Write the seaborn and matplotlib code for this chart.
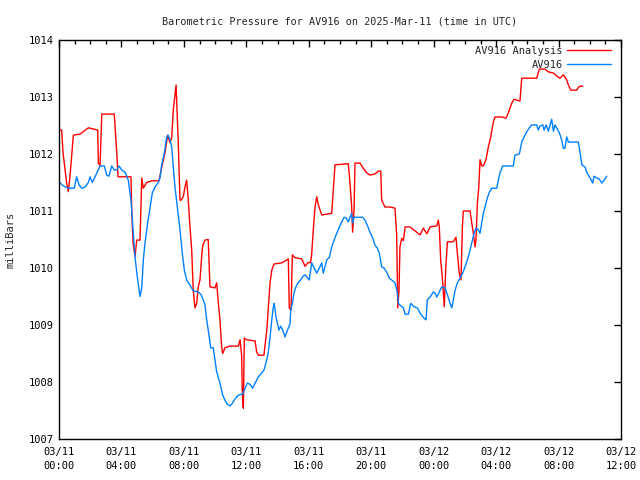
import pandas as pd
import matplotlib
matplotlib.use("Agg")
import matplotlib.pyplot as plt
import matplotlib.dates as mdates
import seaborn as sns

# ======== DATA (hours after 2025-03-11 00:00 UTC, pressure in mb) ========
START = pd.Timestamp("2025-03-11 00:00")

analysis_hours = [
    0.00, 0.17, 0.26, 0.49, 0.60, 0.70, 0.92, 1.35, 1.88, 2.48, 2.52, 2.63, 2.74,
    3.54, 3.70, 3.78, 4.61, 4.66, 4.74, 4.87, 4.98, 5.19, 5.30, 5.40, 5.62, 5.94,
    6.41, 6.58, 6.79, 6.96, 7.11, 7.22, 7.32, 7.50, 7.64, 7.75, 7.82, 7.96, 8.07,
    8.18, 8.28, 8.39, 8.50, 8.60, 8.71, 8.82, 8.92, 9.03, 9.14, 9.21, 9.35, 9.56,
    9.67, 9.99, 10.10, 10.21, 10.31, 10.42, 10.49, 10.63, 10.95, 11.49, 11.60,
    11.70, 11.74, 11.81, 11.87, 12.02, 12.56, 12.66, 12.77, 13.13, 13.20, 13.31,
    13.41, 13.52, 13.63, 13.77, 14.27, 14.59, 14.69, 14.75, 14.86, 14.95, 15.12,
    15.55, 15.76, 15.97, 16.12, 16.19, 16.29, 16.40, 16.51, 16.61, 16.83, 17.47,
    17.57, 17.68, 18.53, 18.64, 18.75, 18.81, 18.90, 18.96, 19.28, 19.49, 19.71,
    19.92, 20.24, 20.45, 20.61, 20.67, 20.88, 21.20, 21.52, 21.63, 21.70, 21.78,
    21.84, 21.95, 22.06, 22.17, 22.49, 22.81, 23.13, 23.34, 23.56, 23.77, 24.20,
    24.30, 24.36, 24.45, 24.58, 24.68, 24.77, 24.88, 25.26, 25.43, 25.52, 25.64,
    25.75, 25.84, 25.90, 26.33, 26.44, 26.54, 26.65, 26.71, 26.80, 26.89, 26.97,
    27.08, 27.18, 27.35, 27.50, 27.66, 27.82, 27.93, 28.36, 28.64, 28.78, 29.00,
    29.15, 29.53, 29.64, 30.60, 30.77, 31.13, 31.35, 31.67, 31.88, 32.09, 32.31,
    32.52, 32.63, 32.78, 33.16, 33.27, 33.38, 33.55,
]
analysis_mb = [
    1012.42, 1012.42, 1012.02, 1011.49, 1011.34, 1011.60, 1012.33, 1012.35, 1012.46,
    1012.42, 1011.84, 1011.80, 1012.70, 1012.70, 1012.02, 1011.60, 1011.60, 1011.02,
    1010.44, 1010.20, 1010.49, 1010.49, 1011.58, 1011.40, 1011.50, 1011.53, 1011.53,
    1011.77, 1012.02, 1012.33, 1012.20, 1012.28, 1012.77, 1013.21, 1012.19, 1011.19,
    1011.19, 1011.25, 1011.42, 1011.54, 1011.19, 1010.72, 1010.32, 1009.61, 1009.30,
    1009.38, 1009.67, 1009.79, 1010.20, 1010.40, 1010.49, 1010.50, 1009.67, 1009.65,
    1009.74, 1009.38, 1009.09, 1008.61, 1008.50, 1008.60, 1008.63, 1008.63, 1008.74,
    1008.46, 1007.86, 1007.54, 1008.77, 1008.74, 1008.72, 1008.53, 1008.47, 1008.47,
    1008.65, 1008.91, 1009.30, 1009.74, 1009.96, 1010.07, 1010.09, 1010.14, 1010.16,
    1009.30, 1009.26, 1010.23, 1010.18, 1010.16, 1010.03, 1010.10, 1010.09, 1010.26,
    1010.67, 1011.07, 1011.25, 1011.11, 1010.93, 1010.96, 1011.37, 1011.81, 1011.83,
    1011.49, 1011.07, 1010.63, 1011.02, 1011.84, 1011.84, 1011.75, 1011.67, 1011.63,
    1011.65, 1011.70, 1011.70, 1011.19, 1011.07, 1011.07, 1011.05, 1010.58, 1009.30,
    1009.61, 1010.37, 1010.52, 1010.48, 1010.72, 1010.72, 1010.65, 1010.58, 1010.70,
    1010.60, 1010.72, 1010.74, 1010.84, 1010.72, 1010.14, 1009.75, 1009.32, 1009.97,
    1010.46, 1010.46, 1010.54, 1010.25, 1009.91, 1009.79, 1010.72, 1011.00, 1011.00,
    1010.79, 1010.61, 1010.37, 1010.49, 1011.14, 1011.42, 1011.90, 1011.79, 1011.79,
    1011.90, 1012.12, 1012.30, 1012.56, 1012.65, 1012.65, 1012.63, 1012.72, 1012.89,
    1012.96, 1012.93, 1013.33, 1013.33, 1013.49, 1013.49, 1013.44, 1013.42, 1013.37,
    1013.33, 1013.39, 1013.30, 1013.21, 1013.12, 1013.12, 1013.17, 1013.19, 1013.19,
]

station_hours = [
    0.00, 0.28, 0.60, 0.98, 1.13, 1.28, 1.45, 1.67, 1.88, 1.99, 2.13, 2.31, 2.48,
    2.63, 2.90, 3.06, 3.20, 3.38, 3.54, 3.70, 3.84, 4.02, 4.23, 4.44, 4.61, 4.76,
    4.87, 5.04, 5.19, 5.30, 5.40, 5.51, 5.68, 5.83, 5.98, 6.15, 6.36, 6.47, 6.58,
    6.75, 6.90, 7.00, 7.11, 7.22, 7.32, 7.43, 7.60, 7.75, 7.90, 8.03, 8.18, 8.39,
    8.60, 8.92, 9.10, 9.24, 9.35, 9.46, 9.56, 9.72, 9.88, 9.99, 10.10, 10.31, 10.49,
    10.63, 10.78, 10.95, 11.06, 11.27, 11.49, 11.77, 11.92, 12.06, 12.24, 12.41,
    12.56, 12.77, 12.99, 13.13, 13.31, 13.41, 13.52, 13.63, 13.73, 13.79, 13.90,
    13.98, 14.09, 14.20, 14.33, 14.48, 14.59, 14.80, 14.84, 14.95, 15.05, 15.18,
    15.33, 15.48, 15.65, 15.76, 16.03, 16.19, 16.34, 16.51, 16.68, 16.83, 16.93,
    17.15, 17.32, 17.47, 17.62, 17.79, 17.96, 18.11, 18.26, 18.39, 18.53, 18.64,
    18.75, 18.81, 18.90, 19.07, 19.46, 19.60, 19.75, 19.92, 20.10, 20.24, 20.39,
    20.52, 20.67, 20.82, 20.99, 21.16, 21.31, 21.52, 21.67, 21.74, 21.84, 22.06,
    22.17, 22.38, 22.53, 22.74, 22.95, 23.17, 23.38, 23.51, 23.59, 23.77, 23.98,
    24.09, 24.20, 24.36, 24.52, 24.73, 24.88, 25.05, 25.16, 25.26, 25.37, 25.52,
    25.69, 25.86, 26.01, 26.16, 26.28, 26.44, 26.59, 26.71, 26.86, 26.97, 27.08,
    27.18, 27.29, 27.44, 27.57, 27.72, 28.04, 28.14, 28.25, 28.42, 29.10, 29.21,
    29.49, 29.58, 29.64, 29.79, 29.96, 30.13, 30.28, 30.60, 30.70, 30.81, 30.99,
    31.07, 31.20, 31.35, 31.45, 31.56, 31.67, 31.77, 31.88, 32.05, 32.20, 32.31,
    32.41, 32.52, 32.63, 32.74, 33.27, 33.38, 33.49, 33.70, 33.80, 34.02, 34.19,
    34.27, 34.45, 34.61, 34.77, 34.92, 35.09,
]
station_mb = [
    1011.51, 1011.44, 1011.40, 1011.40, 1011.60, 1011.46, 1011.40, 1011.42, 1011.50,
    1011.60, 1011.50, 1011.60, 1011.70, 1011.79, 1011.79, 1011.63, 1011.61, 1011.79,
    1011.72, 1011.72, 1011.79, 1011.72, 1011.68, 1011.54, 1011.19, 1010.61, 1010.19,
    1009.79, 1009.50, 1009.65, 1010.14, 1010.44, 1010.79, 1011.05, 1011.32, 1011.42,
    1011.50, 1011.58, 1011.81, 1012.02, 1012.30, 1012.33, 1012.25, 1012.12, 1011.77,
    1011.42, 1011.02, 1010.67, 1010.26, 1009.96, 1009.79, 1009.70, 1009.60, 1009.58,
    1009.53, 1009.44, 1009.35, 1009.09, 1008.91, 1008.60, 1008.60, 1008.39, 1008.18,
    1007.98, 1007.77, 1007.68, 1007.61, 1007.58, 1007.61, 1007.70, 1007.77, 1007.79,
    1007.89, 1007.98, 1007.96, 1007.89, 1007.98, 1008.09, 1008.16, 1008.21, 1008.39,
    1008.53, 1008.79, 1009.09, 1009.32, 1009.38, 1009.14, 1009.04, 1008.91, 1008.98,
    1008.91, 1008.79, 1008.88, 1009.02, 1009.26, 1009.38, 1009.56, 1009.67, 1009.75,
    1009.79, 1009.86, 1009.88, 1009.79, 1010.09, 1010.00, 1009.91, 1010.00, 1010.09,
    1009.91, 1010.14, 1010.19, 1010.37, 1010.49, 1010.61, 1010.72, 1010.81, 1010.89,
    1010.88, 1010.81, 1010.89, 1010.96, 1010.79, 1010.89, 1010.89, 1010.89, 1010.84,
    1010.75, 1010.63, 1010.52, 1010.40, 1010.35, 1010.26, 1010.02, 1010.00, 1009.93,
    1009.82, 1009.79, 1009.74, 1009.58, 1009.38, 1009.35, 1009.30, 1009.19, 1009.19,
    1009.38, 1009.32, 1009.30, 1009.19, 1009.12, 1009.09, 1009.44, 1009.49, 1009.58,
    1009.56, 1009.49, 1009.58, 1009.67, 1009.65, 1009.53, 1009.38, 1009.30, 1009.44,
    1009.61, 1009.74, 1009.82, 1009.91, 1010.02, 1010.14, 1010.26, 1010.44, 1010.61,
    1010.70, 1010.67, 1010.61, 1010.79, 1010.96, 1011.07, 1011.23, 1011.33, 1011.40,
    1011.40, 1011.54, 1011.67, 1011.79, 1011.79, 1011.98, 1012.00, 1012.12, 1012.21,
    1012.30, 1012.39, 1012.46, 1012.51, 1012.51, 1012.42, 1012.49, 1012.51, 1012.42,
    1012.51, 1012.40, 1012.51, 1012.61, 1012.40, 1012.51, 1012.46, 1012.37, 1012.25,
    1012.10, 1012.10, 1012.30, 1012.21, 1012.21, 1012.21, 1012.02, 1011.81, 1011.77,
    1011.68, 1011.58, 1011.49, 1011.61, 1011.58, 1011.56, 1011.49, 1011.54, 1011.61,
]

series_names = ["AV916 Analysis", "AV916"]
series_colors = {"AV916 Analysis": "#ff0000", "AV916": "#0080ff"}

# ======== BUILD LONG TABLE ========
df = pd.concat([
    pd.DataFrame({"time": START + pd.to_timedelta(analysis_hours, unit="h"),
                  "mb": analysis_mb, "series": series_names[0]}),
    pd.DataFrame({"time": START + pd.to_timedelta(station_hours, unit="h"),
                  "mb": station_mb, "series": series_names[1]}),
], ignore_index=True)

# ======== PLOT ========
sns.set_theme(style="white")
plt.rcParams["font.family"] = ["DejaVu Sans Mono"]
plt.rcParams["font.size"] = 7

fig = plt.figure(figsize=(6.4, 4.8), dpi=100)
ax = fig.add_axes([59 / 640, 41 / 480, 562 / 640, 399 / 480])

sns.lineplot(data=df, x="time", y="mb", hue="series", hue_order=series_names,
             palette=series_colors, estimator=None, sort=False,
             linewidth=1.0, ax=ax)

ax.set_xlim(START, START + pd.Timedelta(hours=36))
ax.set_ylim(1007, 1014)
ax.set_yticks(range(1007, 1015))

ax.xaxis.set_major_locator(mdates.HourLocator(byhour=range(0, 24, 4)))
ax.xaxis.set_minor_locator(mdates.HourLocator())
ax.xaxis.set_major_formatter(mdates.DateFormatter("%m/%d\n%H:%M"))

ax.tick_params(which="both", direction="in", top=True, right=True,
               colors="black", labelsize=7.5)
ax.tick_params(which="major", length=5, width=1)
ax.tick_params(which="minor", length=3, width=1)
ax.tick_params(axis="x", which="major", pad=6)
for lbl in ax.get_xticklabels():
    lbl.set_linespacing(1.45)

for spine in ax.spines.values():
    spine.set_color("black")
    spine.set_linewidth(1)

ax.set_xlabel("")
ax.set_ylabel("milliBars", fontsize=7.5, labelpad=10)
ax.set_title("Barometric Pressure for AV916 on 2025-Mar-11 (time in UTC)",
             fontsize=7.3, pad=11)

leg = ax.legend(loc="upper right", bbox_to_anchor=(0.995, 1.003), frameon=False,
                markerfirst=False, handlelength=4.2, handletextpad=0.4,
                labelspacing=0.35, fontsize=7.5, borderpad=0.2)
for line in leg.get_lines():
    line.set_linewidth(1.0)

fig.savefig("out.png", dpi=100)
